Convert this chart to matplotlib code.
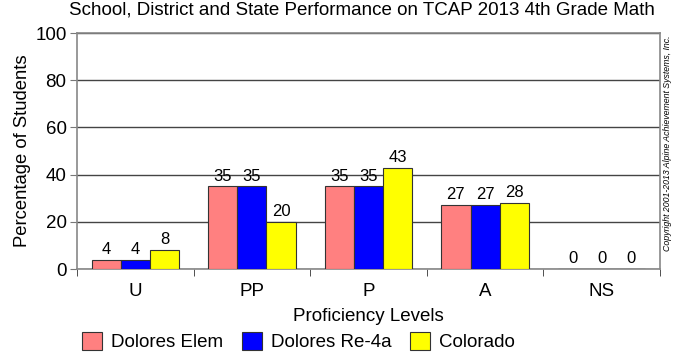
import numpy as np
import matplotlib.pyplot as plt

plt.rcParams["font.family"] = ["Liberation Sans", "DejaVu Sans"]

levels = ["U", "PP", "P", "A", "NS"]
school = [4, 35, 35, 27, 0]
district = [4, 35, 35, 27, 0]
state = [8, 20, 43, 28, 0]
series_names = ["Dolores Elem", "Dolores Re-4a", "Colorado"]
colours = ["#ff8080", "#0000ff", "#ffff00"]

fig = plt.figure(figsize=(6.83, 3.58), dpi=100)
ax = fig.add_axes([0.1127, 0.2486, 0.8536, 0.6592])

x = np.arange(len(levels))
w = 0.25
handles = []
for k, (vals, col) in enumerate(zip([school, district, state], colours)):
    pos = x + (k - 1) * w
    b = ax.bar(pos, vals, w, color=col, edgecolor="#333333", linewidth=0.8, zorder=3)
    handles.append(b)
    for p, v in zip(pos, vals):
        ax.text(p, v + 1.2, str(v), ha="center", va="bottom", fontsize=12, zorder=4)

ax.set_xlim(-0.5, len(levels) - 0.5)
ax.set_ylim(0, 100)
ax.set_yticks([0, 20, 40, 60, 80, 100])
ax.tick_params(axis="y", labelsize=13.5, length=5, pad=2.5, color="#777777")
ax.set_xticks(x)
ax.set_xticklabels(levels, fontsize=13.5)
ax.tick_params(axis="x", length=0, pad=10)
ax.set_xticks(np.arange(-0.5, len(levels) + 0.5, 1), minor=True)
ax.tick_params(axis="x", which="minor", length=5, color="#333333")
ax.yaxis.grid(True, color="#444444", linewidth=1, zorder=0)
for s in ax.spines.values():
    s.set_color("#888888")
    s.set_linewidth(1.2)

ax.set_ylabel("Percentage of Students", fontsize=13.3)
ax.yaxis.set_label_coords(-0.079, 0.5)
ax.set_xlabel("Proficiency Levels", fontsize=13.5)
ax.xaxis.set_label_coords(0.5, -0.165)
fig.text(0.53, 0.972, "School, District and State Performance on TCAP 2013 4th Grade Math",
         ha="center", va="center", fontsize=13.5)
fig.text(0.977, 0.60, "Copyright 2001-2013 Alpine Achievement Systems, Inc.",
         rotation=90, ha="center", va="center", fontsize=6.3, style="italic")

fig.legend(handles, series_names, loc="center left", bbox_to_anchor=(0.12, 0.045),
           ncol=3, frameon=False, fontsize=13.5, handlelength=1.05, handleheight=1.05,
           columnspacing=1.0, handletextpad=0.5, borderpad=0, borderaxespad=0)

fig.savefig("out.png", dpi=100)
